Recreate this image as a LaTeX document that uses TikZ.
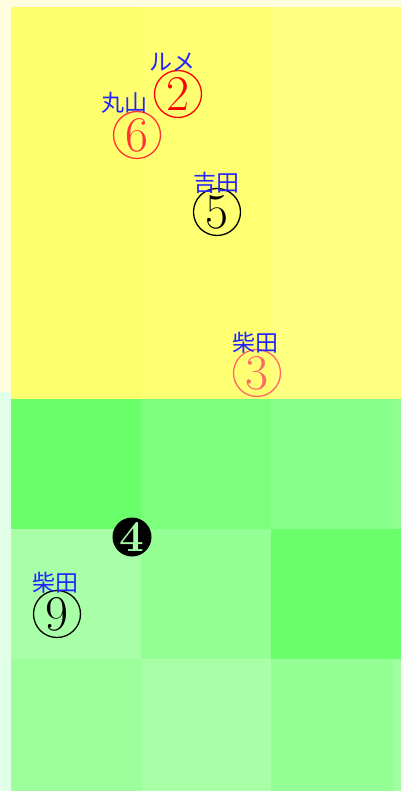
\documentclass[tikz,border=0pt]{standalone}
\usepackage{fontspec}
\newfontfamily\jpfont{Noto Sans CJK JP}
\usetikzlibrary{positioning}

\definecolor{paleyellow}{HTML}{FFFDE0}
\definecolor{palegreen}{HTML}{E0FFE6}
\definecolor{namecol}{HTML}{2424FF}
\definecolor{redA}{HTML}{FF0000}
\definecolor{redB}{HTML}{FF3333}
\definecolor{redC}{HTML}{FF6666}

\begin{document}
\begin{tikzpicture}[x=1pt,y=-1pt,
            pitch/.style={draw, circle, line width=1.3pt, minimum size=47pt, inner sep=0pt,
                          font=\fontsize{50}{50}\selectfont},
            solid pitch/.style={fill=black, circle, minimum size=39pt, inner sep=0pt,
                          text=green!35!white, font=\bfseries\fontsize{44}{44}\selectfont},
            batter/.style={inner sep=0pt, text=namecol, font=\jpfont\fontsize{23}{23}\selectfont}]
        \useasboundingbox (0,0) rectangle (401,791);
        % margins
        \fill[paleyellow] (0,0) rectangle (401,392);
        \fill[palegreen] (0,392) rectangle (11,791);
        % upper zone
        \foreach \x/\c in {11/FFFF6E, 141/FFFF72, 271/FFFF80}{
            \definecolor{cellc}{HTML}{\c}
            \fill[cellc] (\x,7) rectangle ++(130,392);
        }
        \definecolor{cellc}{HTML}{FFFF84}
        \fill[cellc] (393,7) rectangle (401,399);
        % lower zone
        \foreach \x/\y/\c in {11/399/6AFF6A, 141/399/7CFF7C, 271/399/88FF88,
                              11/529/A8FFA8, 141/529/94FF94, 271/529/6AFF6A,
                              11/659/9CFF9C, 141/659/A8FFA8, 271/659/94FF94}{
            \definecolor{cellc}{HTML}{\c}
            \fill[cellc] (\x,\y) rectangle ++(130,132);
        }
        \definecolor{cellc}{HTML}{8EFF8E}
        \fill[cellc] (393,399) rectangle (401,529);
        \definecolor{cellc}{HTML}{A0FFA0}
        \fill[cellc] (393,659) rectangle (401,791);

        % pitches
        \node[pitch, redA] (p2) at (178,94) {2};
        \node[pitch, redB] (p6) at (137,135) {6};
        \node[pitch] (p5) at (217,212) {5};
        \node[pitch, redC] (p3) at (257,373) {3};
        \node[solid pitch] (p4) at (132,537) {4};
        \node[pitch] (p9) at (57,614) {9};

        % batters
        \node[batter] (b2) at (172,62) {ルメ};
        \node[batter] (b6) at (124,103) {丸山};
        \node[batter] (b5) at (216,183) {吉田};
        \node[batter] (b3) at (255,343) {柴田};
        \node[batter] (b9) at (55,583) {柴田};
\end{tikzpicture}
\end{document}
